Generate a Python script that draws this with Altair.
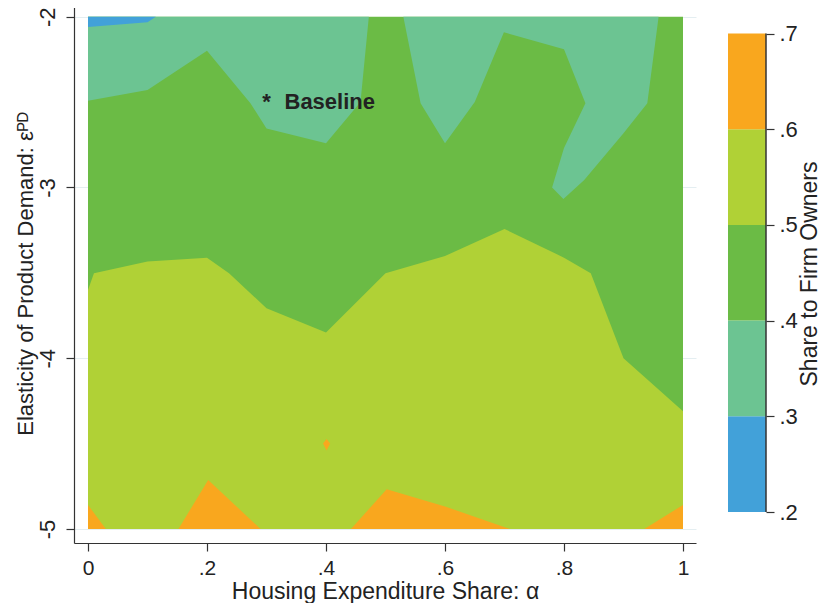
import altair as alt
import pandas as pd

# ---------------- data ----------------
# grid extent (x = housing expenditure share alpha, y = elasticity eps^PD)
alpha_ext = [0.0, 1.0]
eps_ext = [-5.0, -2.0]

# contour bands: share to firm owners
bands = [".2-.3", ".3-.4", ".4-.5", ".5-.6", ".6-.7"]
band_lo = [0.2, 0.3, 0.4, 0.5, 0.6]
band_hi = [0.3, 0.4, 0.5, 0.6, 0.7]
band_colors = ["#42a1d9", "#6cc492", "#6bbb45", "#b0d136", "#f9a71e"]

# region outlines along the contour lines (vertices)
blue_x = [0.0, 0.0, 0.1, 0.114]
blue_y = [-2.0, -2.06, -2.033, -2.0]

teal_a_x = [0.0, 0.0, 0.1, 0.2, 0.273, 0.3, 0.4, 0.458, 0.472]
teal_a_y = [-2.0, -2.492, -2.429, -2.199, -2.507, -2.654, -2.741, -2.5, -2.0]

teal_b_x = [0.53, 0.559, 0.6, 0.65, 0.699, 0.8, 0.836, 0.8, 0.78, 0.799, 0.834, 0.9, 0.94, 0.959]
teal_b_y = [-2.0, -2.507, -2.741, -2.5, -2.091, -2.191, -2.507, -2.769, -3.0, -3.067, -2.956, -2.683, -2.507, -2.0]

lime_x = [0.0, 0.01, 0.1, 0.2, 0.237, 0.3, 0.4, 0.5, 0.6, 0.7, 0.8, 0.845, 0.9, 1.0, 1.0, 0.0]
lime_y = [-3.6, -3.502, -3.434, -3.411, -3.502, -3.707, -3.85, -3.503, -3.401, -3.243, -3.411, -3.502, -4.0, -4.311, -5.0, -5.0]

orange1_x = [0.0, 0.03, 0.0]
orange1_y = [-4.859, -5.0, -5.0]
orange2_x = [0.152, 0.202, 0.29]
orange2_y = [-5.0, -4.713, -5.0]
orange3_x = [0.442, 0.502, 0.6, 0.709]
orange3_y = [-5.0, -4.767, -4.868, -5.0]
orange4_x = [0.935, 1.0, 1.0]
orange4_y = [-5.0, -4.859, -5.0]
orange5_x = [0.395, 0.401, 0.407, 0.401]
orange5_y = [-4.5, -4.473, -4.5, -4.54]

# baseline calibration point
base_alpha = [0.3]
base_eps = [-2.5]
base_label = ["Baseline"]

x_ticks = [0, 0.2, 0.4, 0.6, 0.8, 1.0]
y_ticks = [-5, -4, -3, -2]
cb_ticks = [0.2, 0.3, 0.4, 0.5, 0.6, 0.7]

# ---------------- tables ----------------
polys = [
    ("teal_a", ".3-.4", teal_a_x, teal_a_y),
    ("teal_b", ".3-.4", teal_b_x, teal_b_y),
    ("blue", ".2-.3", blue_x, blue_y),
    ("lime", ".5-.6", lime_x, lime_y),
    ("or1", ".6-.7", orange1_x, orange1_y),
    ("or2", ".6-.7", orange2_x, orange2_y),
    ("or3", ".6-.7", orange3_x, orange3_y),
    ("or4", ".6-.7", orange4_x, orange4_y),
    ("or5", ".6-.7", orange5_x, orange5_y),
]
rows = []
for pid, band, xs_, ys_ in polys:
    for i, (a, e) in enumerate(zip(xs_, ys_)):
        rows.append({"poly": pid, "band": band, "idx": i, "alpha": a, "eps": e})
poly_df = pd.DataFrame(rows)

ext_df = pd.DataFrame({"a0": [alpha_ext[0]], "a1": [alpha_ext[1]],
                       "e0": [eps_ext[0]], "e1": [eps_ext[1]]})
base_df = pd.DataFrame({"alpha": base_alpha, "eps": base_eps, "label": base_label})
cb_df = pd.DataFrame({"band": bands, "lo": band_lo, "hi": band_hi})

# ---------------- styling ----------------
FONT = "Liberation Sans"
TXT = "#222222"
AX = "#333333"

color_scale = alt.Scale(domain=bands, range=band_colors)

xs = alt.Scale(domain=[-0.02353, 1.02185], nice=False, zero=False)
ys = alt.Scale(domain=[-5.082, -1.9256], nice=False, zero=False)

x_axis = alt.Axis(
    values=x_ticks, title="Housing Expenditure Share: \u03b1",
    labelExpr="datum.value == 0 ? '0' : datum.value == 1 ? '1' : replace(format(datum.value, '.1f'), '0.', '.')",
    grid=False, tickSize=8, tickColor=AX, tickWidth=1.2, domainColor=AX, domainWidth=1.2,
    labelFont=FONT, labelFontSize=21, labelColor=TXT, labelPadding=6, labelOverlap=False,
    labelFlush=False,
    titleFont=FONT, titleFontSize=23, titleFontWeight="normal", titleColor=TXT, titlePadding=2,
)
y_axis = alt.Axis(
    values=y_ticks, title="Elasticity of Product Demand: \u03b5\u1d3e\u1d30",
    labelExpr="'' + datum.value", labelAngle=270, labelAlign="center", labelBaseline="bottom",
    grid=True, gridColor="#e4eef1", gridWidth=1,
    tickSize=8, tickColor=AX, tickWidth=1.2, domainColor=AX, domainWidth=1.2,
    labelFont=FONT, labelFontSize=22, labelColor=TXT, labelPadding=7, labelOverlap=False,
    labelFlush=False,
    titleFont=FONT, titleFontSize=22, titleFontWeight="normal", titleColor=TXT, titlePadding=-1,
)


def X(field):
    return alt.X(field, type="quantitative", scale=xs, axis=x_axis)


def Y(field):
    return alt.Y(field, type="quantitative", scale=ys, axis=y_axis)


base_rect = alt.Chart(ext_df).mark_rect(color=band_colors[2]).encode(
    x=X("a0"), x2="a1", y=Y("e0"), y2="e1"
)


def poly_layer(band):
    return alt.Chart(poly_df).transform_filter(alt.datum.band == band).mark_line(
        filled=True, strokeWidth=0, interpolate="linear"
    ).encode(
        x=X("alpha"), y=Y("eps"),
        order=alt.Order("idx:Q"),
        detail="poly:N",
        color=alt.Color("band:N", scale=color_scale, legend=None),
    )


star = alt.Chart(base_df).mark_text(
    text="*", font=FONT, fontSize=22, fontWeight="bold", color=TXT,
    align="center", baseline="alphabetic", dy=7
).encode(x=X("alpha"), y=Y("eps"))

label = alt.Chart(base_df).mark_text(
    font=FONT, fontSize=22, fontWeight="bold", color=TXT,
    align="left", baseline="alphabetic", dx=18, dy=7
).encode(x=X("alpha"), y=Y("eps"), text="label:N")

main = alt.layer(
    base_rect,
    poly_layer(".3-.4"),
    poly_layer(".2-.3"),
    poly_layer(".5-.6"),
    poly_layer(".6-.7"),
    star, label,
).properties(width=622, height=539)

# ---------------- colour bar ----------------
cb_scale = alt.Scale(domain=[0.16761, 0.73083], nice=False, zero=False)
cb_axis = alt.Axis(
    orient="right", values=cb_ticks, title="Share to Firm Owners",
    labelExpr="replace(format(datum.value, '.1f'), '0.', '.')",
    grid=False, domain=False, tickSize=8, tickColor=AX, tickWidth=1.2,
    labelFont=FONT, labelFontSize=22, labelColor=TXT, labelPadding=5, labelOverlap=False,
    labelFlush=False,
    titleFont=FONT, titleFontSize=23, titleFontWeight="normal", titleColor=TXT,
    titleAngle=270, titleBaseline="top", titlePadding=1,
)

cb_rect = alt.Chart(cb_df).mark_rect().encode(
    x=alt.value(0), x2=alt.value("width"),
    y=alt.Y("lo:Q", scale=cb_scale, axis=cb_axis), y2="hi:Q",
    color=alt.Color("band:N", scale=color_scale, legend=None),
)
cb_rule = alt.Chart(cb_df).mark_rule(color=AX, strokeWidth=1.5).encode(
    x=alt.value("width"),
    y=alt.Y("min(lo):Q", scale=cb_scale, axis=cb_axis), y2="max(hi):Q",
)
colorbar = alt.layer(cb_rect, cb_rule).properties(width=38, height=539)

chart = alt.hconcat(main, colorbar, spacing=32).properties(
    padding={"left": 6, "top": -4, "right": 0, "bottom": 0}
).configure(background="white").configure_view(strokeWidth=0, stroke="transparent")

chart.save("out.html", embed_options={"renderer": "svg", "actions": False})
